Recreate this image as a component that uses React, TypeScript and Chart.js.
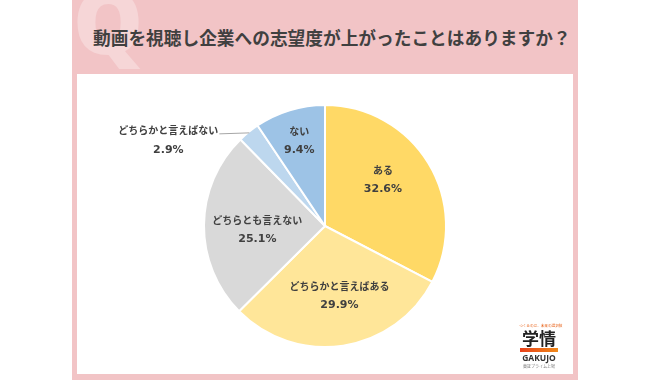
import React, { useEffect, useRef } from "react";
import { Chart, registerables } from "chart.js";

Chart.register(...registerables);

const TITLE = "動画を視聴し企業への志望度が上がったことはありますか？";
const categories = ["ある", "どちらかと言えばある", "どちらとも言えない", "どちらかと言えばない", "ない"];
const values = [32.6, 29.9, 25.1, 2.9, 9.4];
const colors = ["#FFD966", "#FFE699", "#D9D9D9", "#BDD7EE", "#9DC3E6"];

// label placement tweaks: radius fraction, angle adjust (deg); outside = leader label
const labelR = [0.61, 0.59, 0.56, 0, 0.73];
const labelA = [-7, -3, -4, 0, 0];
const outside = [false, false, false, true, false];

const FONT = '"Noto Sans CJK JP", "Noto Sans", sans-serif';
const LABEL_FONT = '"DejaVu Sans", "Noto Sans CJK JP", sans-serif';

const labelPlugin = {
  id: "sliceLabels",
  afterDatasetsDraw(chart: any) {
    const ctx = chart.ctx as CanvasRenderingContext2D;
    const meta = chart.getDatasetMeta(0);
    ctx.save();
    ctx.fillStyle = "#404040";
    ctx.textAlign = "center";
    ctx.textBaseline = "middle";
    const nameFont = `bold 10px ${LABEL_FONT}`;
    const pctFont = `bold 11px ${LABEL_FONT}`;
    meta.data.forEach((arc: any, i: number) => {
      const p = arc.getProps(["x", "y", "startAngle", "endAngle", "outerRadius"], true);
      const name = categories[i];
      const pct = values[i].toFixed(1) + "%";
      if (outside[i]) {
        const mid = (p.startAngle + p.endAngle) / 2;
        const sx = p.x + Math.cos(mid) * (p.outerRadius - 1);
        const sy = p.y + Math.sin(mid) * (p.outerRadius - 1);
        const ex = sx - 30;
        const ey = sy + 1;
        ctx.strokeStyle = "#a6a6a6";
        ctx.lineWidth = 1;
        ctx.beginPath();
        ctx.moveTo(sx, sy);
        ctx.lineTo(ex, ey);
        ctx.stroke();
        ctx.font = nameFont;
        const w = ctx.measureText(name).width;
        const cx = ex - w / 2 - 1;
        ctx.fillText(name, cx, ey - 2);
        ctx.font = pctFont;
        ctx.fillText(pct, cx, ey + 16);
      } else {
        const mid = (p.startAngle + p.endAngle) / 2 + (labelA[i] * Math.PI) / 180;
        const r = p.outerRadius * labelR[i];
        const cx = p.x + Math.cos(mid) * r;
        const cy = p.y + Math.sin(mid) * r;
        ctx.font = nameFont;
        ctx.fillText(name, cx, cy - 9);
        ctx.font = pctFont;
        ctx.fillText(pct, cx, cy + 9);
      }
    });
    ctx.restore();
  },
};

export default function App() {
  const ref = useRef<HTMLCanvasElement>(null);
  useEffect(() => {
    if (!ref.current) return;
    const chart = new Chart(ref.current, {
      type: "pie",
      data: {
        labels: categories,
        datasets: [
          {
            data: values,
            backgroundColor: colors,
            borderColor: "#ffffff",
            borderWidth: 2,
          },
        ],
      },
      options: {
        animation: false,
        responsive: false,
        layout: { padding: { top: 30, bottom: 26, left: 0, right: 0 } },
        plugins: {
          legend: { display: false },
          tooltip: { enabled: false },
        },
      },
      plugins: [labelPlugin],
    });
    return () => chart.destroy();
  }, []);

  return (
    <div style={{ position: "fixed", left: 0, top: 0, width: 650, height: 380, background: "#ffffff", overflow: "hidden", fontFamily: FONT }}>
      <div style={{ position: "absolute", left: 72, top: 0, width: 506, height: 380, background: "#F2C4C6", overflow: "hidden" }}>
        <div style={{ position: "absolute", left: 1, top: -24, fontSize: 88, fontWeight: 900, color: "rgba(255,255,255,0.3)", fontFamily: '"Noto Sans", sans-serif', lineHeight: 1 }}>Q</div>
        <div style={{ position: "absolute", left: 21, top: 26, fontSize: 17.7, fontWeight: 700, color: "#404040", whiteSpace: "nowrap", lineHeight: "22px" }}>{TITLE}</div>
      </div>
      <div style={{ position: "absolute", left: 77, top: 74, width: 496, height: 300, background: "#ffffff" }}>
        <canvas ref={ref} width={496} height={300} style={{ position: "absolute", left: 0, top: 0, width: 496, height: 300 }} />
        <div style={{ position: "absolute", left: 440, top: 249, width: 44, textAlign: "center", lineHeight: 1 }}>
          <div style={{ fontSize: 4, color: "#E8631A", whiteSpace: "nowrap", transform: "scale(0.9)" }}>つくるのは、未来の選択肢</div>
          <div style={{ fontSize: 17, fontWeight: 700, color: "#222", marginTop: 2 }}>学情</div>
          <div style={{ height: 4, background: "linear-gradient(90deg,#E8401A,#F08A1A)", margin: "2px 3px 0" }} />
          <div style={{ fontSize: 8.5, fontWeight: 700, color: "#333", marginTop: 2, fontFamily: '"Noto Sans", sans-serif' }}>GAKUJO</div>
          <div style={{ fontSize: 4, color: "#777", whiteSpace: "nowrap", marginTop: 1 }}>東証プライム上場</div>
        </div>
      </div>
    </div>
  );
}
